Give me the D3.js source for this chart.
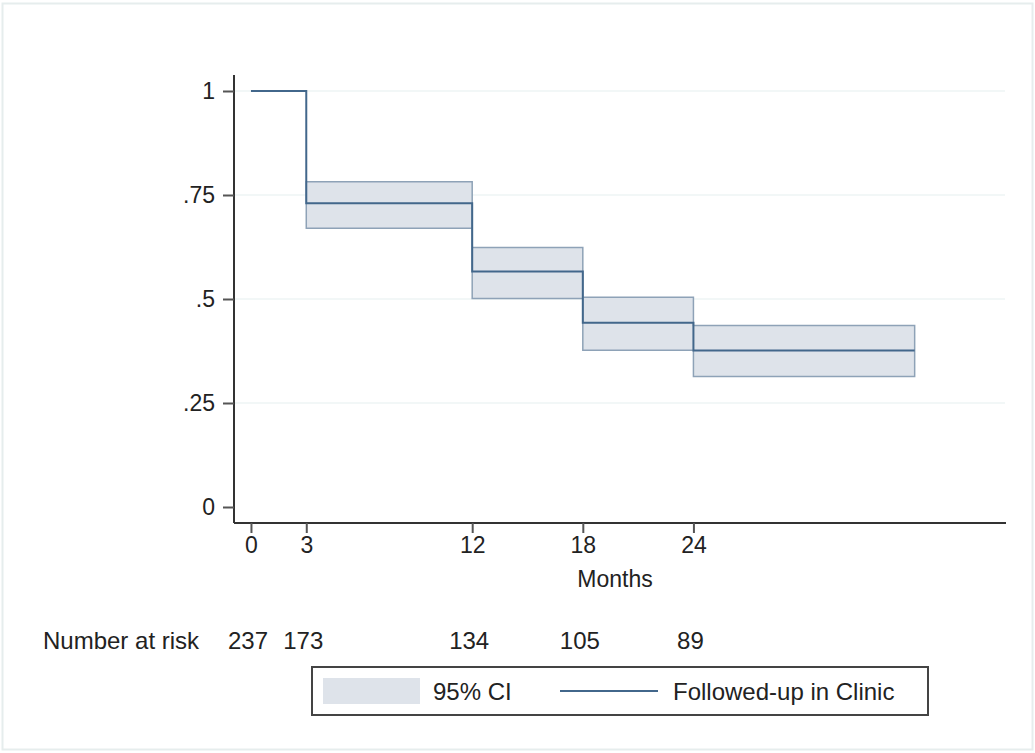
<!DOCTYPE html>
<html>
<head>
<meta charset="utf-8">
<script src="https://cdn.jsdelivr.net/npm/d3@7"></script>
<style>
  body { margin: 0; background: #fff; }
  text { font-family: "Liberation Sans", Arial, sans-serif; fill: #222; }
</style>
</head>
<body>
<div id="chart"></div>
<script>
// data
const months   = [0, 3, 12, 18, 24, 36];
const survival = [1, 0.730, 0.566, 0.443, 0.376, 0.376];
const ciLower  = [1, 0.670, 0.501, 0.377, 0.314, 0.314];
const ciUpper  = [1, 0.782, 0.624, 0.504, 0.436, 0.436];
const xTicks   = [0, 3, 12, 18, 24];
const yTicks   = [0, 0.25, 0.5, 0.75, 1];
const yTickLabels = ["0", ".25", ".5", ".75", "1"];
const riskTimes  = [0, 3, 12, 18, 24];
const riskCounts = [237, 173, 134, 105, 89];

const width = 1035, height = 753;
const lineColor = "#42678b";
const fontSize = 24;

const svg = d3.select("#chart").append("svg")
  .attr("width", width)
  .attr("height", height);

// outer frame
svg.append("rect")
  .attr("x", 2.5).attr("y", 3.5)
  .attr("width", width - 5).attr("height", height - 7)
  .attr("fill", "#fff")
  .attr("stroke", "#e6eded")
  .attr("stroke-width", 2);

const x = d3.scaleLinear().domain([-0.92, 40.9]).range([234, 1005]);
const y = d3.scaleLinear().domain([0, 1]).range([507, 91]);

// grid
svg.append("g")
  .selectAll("line")
  .data(yTicks.filter(d => d > 0))
  .enter()
  .append("line")
  .attr("x1", x.range()[0]).attr("x2", x.range()[1])
  .attr("y1", d => y(d)).attr("y2", d => y(d))
  .attr("stroke", "#eef4f4")
  .attr("stroke-width", 1.5);

// CI band (from the first drop on)
const band = months.map((m, i) => ({ m, lo: ciLower[i], hi: ciUpper[i] })).slice(1);
svg.append("path")
  .datum(band)
  .attr("d", d3.area()
    .curve(d3.curveStepAfter)
    .x(d => x(d.m))
    .y0(d => y(d.lo))
    .y1(d => y(d.hi)))
  .attr("fill", "#dee3ea")
  .attr("stroke", "#8ea2b7")
  .attr("stroke-width", 1.5);

// survival step line
const pts = months.map((m, i) => ({ m, s: survival[i] }));
svg.append("path")
  .datum(pts)
  .attr("d", d3.line()
    .curve(d3.curveStepAfter)
    .x(d => x(d.m))
    .y(d => y(d.s)))
  .attr("fill", "none")
  .attr("stroke", lineColor)
  .attr("stroke-width", 2);

// y axis
const yAxis = svg.append("g")
  .attr("transform", "translate(234,0)")
  .call(d3.axisLeft(y)
    .tickValues(yTicks)
    .tickFormat((d, i) => yTickLabels[i])
    .tickSize(11)
    .tickPadding(8));
yAxis.select(".domain").attr("d", "M0,75V523");

// x axis
const xAxis = svg.append("g")
  .attr("transform", "translate(0,523)")
  .call(d3.axisBottom(x)
    .tickValues(xTicks)
    .tickSize(10)
    .tickPadding(4));
xAxis.select(".domain").attr("d", "M234,0H1006");

svg.selectAll(".domain").attr("stroke", "#333").attr("stroke-width", 2);
svg.selectAll(".tick line").attr("stroke", "#555").attr("stroke-width", 2);
svg.selectAll(".tick text")
  .attr("font-size", 23)
  .attr("font-family", "Liberation Sans, Arial, sans-serif")
  .attr("fill", "#222");

svg.append("text")
  .attr("x", 615).attr("y", 587)
  .attr("text-anchor", "middle")
  .attr("font-size", 23)
  .text("Months");

// number at risk
svg.append("text")
  .attr("x", 43).attr("y", 649)
  .attr("font-size", fontSize)
  .text("Number at risk");
svg.append("g")
  .selectAll("text")
  .data(riskCounts)
  .enter()
  .append("text")
  .attr("x", (d, i) => x(riskTimes[i]) - 3)
  .attr("y", 649)
  .attr("text-anchor", "middle")
  .attr("font-size", fontSize)
  .text(d => d);

// legend
const leg = svg.append("g");
leg.append("rect")
  .attr("x", 312).attr("y", 667)
  .attr("width", 616).attr("height", 48)
  .attr("fill", "#fff")
  .attr("stroke", "#444")
  .attr("stroke-width", 2);
leg.append("rect")
  .attr("x", 323).attr("y", 678)
  .attr("width", 97).attr("height", 26)
  .attr("fill", "#dee3ea");
leg.append("text")
  .attr("x", 433).attr("y", 700)
  .attr("font-size", fontSize)
  .text("95% CI");
leg.append("line")
  .attr("x1", 560).attr("x2", 658)
  .attr("y1", 691).attr("y2", 691)
  .attr("stroke", lineColor)
  .attr("stroke-width", 2);
leg.append("text")
  .attr("x", 673).attr("y", 700)
  .attr("font-size", fontSize)
  .text("Followed-up in Clinic");
</script>
</body>
</html>
